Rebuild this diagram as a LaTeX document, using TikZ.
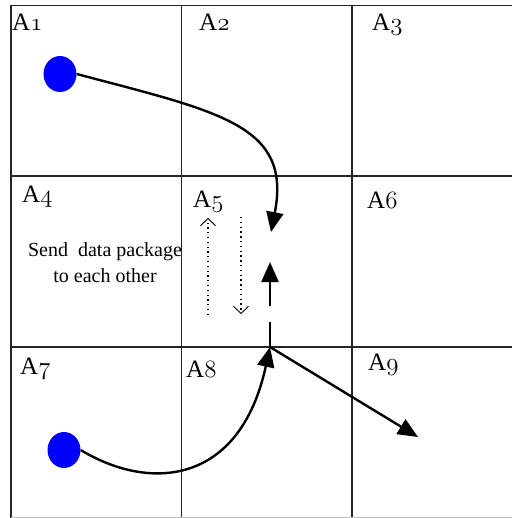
\documentclass[tikz,border=0pt]{standalone}
\usepackage{fontspec}
\newfontfamily\msgfont{Liberation Serif}
\usetikzlibrary{arrows.meta,shapes.geometric}
\newcommand{\cell}[1]{{\msgfont A}$\mathnormal{#1}$}
\tikzset{
  gridline/.style={line width=1.4pt,black!85},
  lbl/.style={anchor=base west,inner sep=0pt,font=\fontsize{25}{25}\selectfont},
  dot/.style={ellipse,fill=blue,minimum width=33pt,minimum height=36pt,inner sep=0pt},
  route/.style={line width=2.4pt,-{Triangle[length=20pt,width=17pt]}},
  swap/.style={line width=1.3pt,dash pattern=on 1.3pt off 3.5pt,-{Straight Barb[length=7pt,width=15pt,line width=0.9pt]}},
}

\begin{document}
\begin{tikzpicture}[x=1pt,y=-1pt]
  \useasboundingbox (0,0) rectangle (512,518);
  % cells
  \foreach \y in {5.5,176,347}
    \draw[gridline] (11,\y) -- (512,\y);
  \foreach \x in {11,181.5,352}
    \draw[gridline] (\x,5.5) -- (\x,518);
  \draw[black!25,line width=1pt] (11,517) -- (512,517);

  % cell names
  \node[lbl] (a1) at (12,31) {\cell{1}};
  \node[lbl] (a2) at (199,31) {\cell{2}};
  \node[lbl] (a3) at (372,31) {\cell{3}};
  \node[lbl] (a4) at (22,203) {\cell{4}};
  \node[lbl] (a5) at (193,208) {\cell{5}};
  \node[lbl] (a6) at (367,209) {\cell{6}};
  \node[lbl] (a7) at (20,374) {\cell{7}};
  \node[lbl] (a8) at (186,377) {\cell{8}};
  \node[lbl] (a9) at (368,370) {\cell{9}};

  \node[align=center,inner sep=0pt,font=\msgfont\fontsize{20}{26}\selectfont] (msg) at (105,263)
    {Send\ \ data package\\to each other};

  % nodes and routes
  \node[dot] (s1) at (60,74) {};
  \node[dot] (s2) at (64,450) {};
  \coordinate (c1end) at (271,232);
  \coordinate (hub) at (270,347);
  \coordinate (uptip) at (270,262);
  \coordinate (far) at (418,437);
  \draw[route] (s1.east) .. controls (220,112) and (292,125) .. (c1end);
  \draw[route] (s2.east) .. controls (150,492) and (240,485) .. (hub);
  \draw[route,dash pattern=on 25pt off 16pt on 200pt] (hub) -- (uptip);
  \draw[route] (hub) -- (far);

  % exchange
  \coordinate (upa) at (208,315);
  \coordinate (upb) at (208,218);
  \coordinate (dna) at (241,217);
  \coordinate (dnb) at (241,314);
  \draw[swap] (upa) -- (upb);
  \draw[swap] (dna) -- (dnb);
\end{tikzpicture}
\end{document}
